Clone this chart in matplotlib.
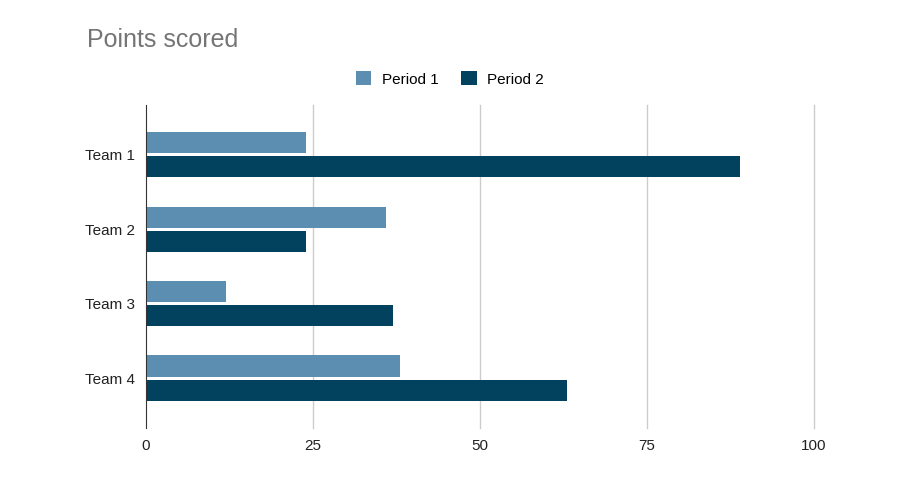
import numpy as np
import matplotlib.pyplot as plt

plt.rcParams['font.family'] = ['Liberation Sans', 'DejaVu Sans']

teams = ['Team 1', 'Team 2', 'Team 3', 'Team 4']
period_1 = [24, 36, 12, 38]
period_2 = [89, 24, 37, 63]
x_ticks = [0, 25, 50, 75, 100]

fig = plt.figure(figsize=(9, 4.79), dpi=100)
ax = fig.add_axes([0.1622, 0.1065, 0.7422, 0.6745])

y = np.arange(len(teams))
h = 0.285
ax.barh(y - h / 2 - 0.02, period_1, height=h, color='#5b8eb0', label='Period 1', zorder=3)
ax.barh(y + h / 2 + 0.02, period_2, height=h, color='#02425f', label='Period 2', zorder=3)

ax.set_xlim(0, 100)
ax.set_ylim(len(teams) - 1 + 0.67, -0.67)
ax.set_yticks(y)
ax.set_yticklabels(teams, fontsize=11, color='#222222')
ax.set_xticks(x_ticks)
ax.set_xticklabels([str(t) for t in x_ticks], fontsize=11, color='#222222')
ax.tick_params(length=0, pad=8)
# vertical gridlines, drawn unclipped so the one at 100 shows fully
for t in x_ticks[1:]:
    ax.axvline(t, color='#cccccc', linewidth=1, zorder=0, clip_on=False)
for s in ['top', 'right', 'bottom']:
    ax.spines[s].set_visible(False)
ax.spines['left'].set_color('#333333')
ax.spines['left'].set_zorder(4)

fig.text(87 / 900, 1 - 40 / 479, 'Points scored', fontsize=18, color='#757575', va='center', ha='left')
fig.legend(loc='center', bbox_to_anchor=(450 / 900, 1 - 79 / 479), ncol=2, frameon=False,
           fontsize=11, handlelength=1.0, handleheight=1.0, columnspacing=1.5, handletextpad=0.7)

fig.savefig('out.png', dpi=100)
